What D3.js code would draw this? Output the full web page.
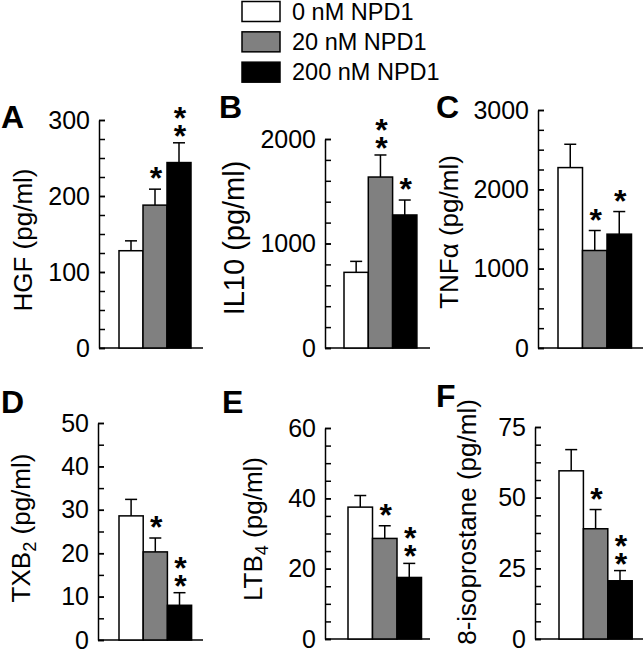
<!DOCTYPE html>
<html>
<head>
<meta charset="utf-8">
<script src="https://cdn.jsdelivr.net/npm/d3@7/dist/d3.min.js"></script>
<style>
  html, body { margin: 0; padding: 0; background: #fff; }
  svg { display: block; }
  text { font-family: "Liberation Sans", Arial, Helvetica, sans-serif; fill: #000; }
  .stack { writing-mode: vertical-rl; text-orientation: upright; }
</style>
</head>
<body>
<svg id="chart" width="643" height="653"></svg>
<script>
// ---------------- data ----------------
const groups = ["0 nM NPD1", "20 nM NPD1", "200 nM NPD1"];
const groupColors = ["#ffffff", "#808080", "#000000"];

const hgfMean = [128, 188, 244];
const hgfSem = [13, 21, 26];
const hgfStars = ["", "*", "**"];
const hgfTicks = [0, 100, 200, 300];

const il10Mean = [724, 1636, 1273];
const il10Sem = [105, 211, 143];
const il10Stars = ["", "**", "*"];
const il10Ticks = [0, 1000, 2000];

const tnfMean = [2274, 1229, 1435];
const tnfSem = [294, 252, 285];
const tnfStars = ["", "*", "*"];
const tnfTicks = [0, 1000, 2000, 3000];

const txbMean = [28.6, 20.3, 8.0];
const txbSem = [3.8, 3.2, 2.9];
const txbStars = ["", "*", "**"];
const txbTicks = [0, 10, 20, 30, 40, 50];

const ltbMean = [37.5, 28.6, 17.5];
const ltbSem = [3.3, 3.6, 4.0];
const ltbStars = ["", "*", "**"];
const ltbTicks = [0, 20, 40, 60];

const isoMean = [59.5, 39.0, 20.6];
const isoSem = [7.5, 6.8, 3.6];
const isoStars = ["", "*", "**"];
const isoTicks = [0, 25, 50, 75];

const panelLetters = ["A", "B", "C", "D", "E", "F"];
// label parts: [text, isSubscript]
const panelLabels = [
  [["HGF (pg/ml)", false]],
  [["IL10 (pg/ml)", false]],
  [["TNFα (pg/ml)", false]],
  [["TXB", false], ["2", true], [" (pg/ml)", false]],
  [["LTB", false], ["4", true], [" (pg/ml)", false]],
  [["8-isoprostane (pg/ml)", false]]
];
const panelMeans = [hgfMean, il10Mean, tnfMean, txbMean, ltbMean, isoMean];
const panelSems = [hgfSem, il10Sem, tnfSem, txbSem, ltbSem, isoSem];
const panelStars = [hgfStars, il10Stars, tnfStars, txbStars, ltbStars, isoStars];
const panelTicks = [hgfTicks, il10Ticks, tnfTicks, txbTicks, ltbTicks, isoTicks];
const panelMinorStep = [25, 200, 250, 5, 5, 6.25];

// ---------------- layout ----------------
const layout = [
  { axisX: 99,  yTop: 120, yBot: 348, xEnd: 203, barStart: 119, bw: 24,   tickFont: 25, labelFont: 26, labelX: 32,  labelY: 240, letterX: 1,   letterY: 128 },
  { axisX: 325, yTop: 139, yBot: 348, xEnd: 430, barStart: 344, bw: 24.3, tickFont: 25, labelFont: 29, labelX: 244, labelY: 238, letterX: 219, letterY: 118 },
  { axisX: 538, yTop: 110, yBot: 348, xEnd: 643, barStart: 558, bw: 24.5, tickFont: 25, labelFont: 26, labelX: 458, labelY: 232, letterX: 436, letterY: 118 },
  { axisX: 98,  yTop: 423, yBot: 640, xEnd: 203, barStart: 119, bw: 24.2, tickFont: 25, labelFont: 26, labelX: 30,  labelY: 528, letterX: 1,   letterY: 413 },
  { axisX: 325, yTop: 428, yBot: 639, xEnd: 430, barStart: 348, bw: 24.5, tickFont: 25, labelFont: 26, labelX: 262, labelY: 529, letterX: 222, letterY: 413 },
  { axisX: 535, yTop: 427, yBot: 639, xEnd: 643, barStart: 559, bw: 24.4, tickFont: 25, labelFont: 26, labelX: 476, labelY: 522, letterX: 436, letterY: 407 }
];

const svg = d3.select("#chart");
const SW = 1.5;

// ---------------- legend ----------------
const legendY = d3.scaleBand().domain(groups).range([1, 92]).paddingInner(0);
const leg = svg.append("g");
groups.forEach((g, i) => {
  const y0 = legendY(g);
  leg.append("rect")
    .attr("x", 242).attr("y", y0 + 0.5)
    .attr("width", 38).attr("height", 20)
    .attr("fill", groupColors[i]).attr("stroke", "#000").attr("stroke-width", SW);
  leg.append("text")
    .attr("x", 292).attr("y", y0 + 18.5)
    .attr("font-size", 23.5)
    .text(g);
});

// ---------------- panels ----------------
panelLetters.forEach((letter, p) => {
  const L = layout[p];
  const means = panelMeans[p], sems = panelSems[p], stars = panelStars[p];
  const ticks = panelTicks[p];
  const max = d3.max(ticks);
  const y = d3.scaleLinear().domain([0, max]).range([L.yBot, L.yTop]);
  const x = d3.scaleBand().domain(groups).range([L.barStart, L.barStart + 3 * L.bw]).padding(0);

  const g = svg.append("g");

  // minor ticks
  const minor = d3.range(0, max + 1e-9, panelMinorStep[p]);
  g.append("g")
    .attr("transform", `translate(${L.axisX},0)`)
    .call(d3.axisLeft(y).tickValues(minor).tickSize(-6).tickFormat(""))
    .call(s => s.select(".domain").remove())
    .call(s => s.selectAll("line").attr("stroke-width", SW));

  // major axis
  const ax = g.append("g")
    .attr("transform", `translate(${L.axisX},0)`)
    .call(d3.axisLeft(y).tickValues(ticks).tickSize(-6).tickSizeOuter(0).tickPadding(9).tickFormat(d3.format("d")));
  ax.select(".domain").attr("stroke-width", SW);
  ax.selectAll("line").attr("stroke-width", SW);
  ax.selectAll("text")
    .attr("font-size", L.tickFont)
    .attr("font-family", "Liberation Sans, Arial, sans-serif")
    .attr("fill", "#000");

  // x axis baseline
  g.append("line")
    .attr("x1", L.axisX).attr("x2", L.xEnd)
    .attr("y1", y(0)).attr("y2", y(0))
    .attr("stroke", "#000").attr("stroke-width", SW);

  // error bars
  groups.forEach((grp, i) => {
    const cx = x(grp) + x.bandwidth() / 2;
    const top = y(means[i] + sems[i]);
    g.append("line")
      .attr("x1", cx).attr("x2", cx)
      .attr("y1", y(means[i])).attr("y2", top)
      .attr("stroke", "#000").attr("stroke-width", SW);
    g.append("line")
      .attr("x1", cx - 6).attr("x2", cx + 6)
      .attr("y1", top).attr("y2", top)
      .attr("stroke", "#000").attr("stroke-width", SW);
    // stars: one text element, stacked vertically
    const n = stars[i].length;
    if (n > 0) {
      g.append("text")
        .attr("class", "stack")
        .attr("x", cx + 1)
        .attr("y", n > 1 ? top - 7 : top + 7)
        .attr("text-anchor", "end")
        .attr("font-size", 32)
        .attr("font-weight", "bold")
        .attr("letter-spacing", n > 1 ? -18 : 0)
        .text(stars[i]);
    }
  });

  // bars
  g.selectAll("rect.bar")
    .data(groups)
    .join("rect")
    .attr("class", "bar")
    .attr("x", d => x(d))
    .attr("width", x.bandwidth())
    .attr("y", (d, i) => y(means[i]))
    .attr("height", (d, i) => y(0) - y(means[i]))
    .attr("fill", (d, i) => groupColors[i])
    .attr("stroke", "#000").attr("stroke-width", SW);

  // y label
  const lab = g.append("text")
    .attr("transform", `translate(${L.labelX},${L.labelY}) rotate(-90)`)
    .attr("text-anchor", "middle")
    .attr("font-size", L.labelFont);
  panelLabels[p].forEach(([t, sub], j) => {
    const ts = lab.append("tspan").text(t);
    if (sub) ts.attr("font-size", L.labelFont * 0.7).attr("dy", 6);
    else if (j > 0 && panelLabels[p][j - 1][1]) ts.attr("dy", -6);
  });

  // panel letter
  g.append("text")
    .attr("x", L.letterX).attr("y", L.letterY)
    .attr("font-size", 32).attr("font-weight", "bold")
    .text(letter);
});
</script>
</body>
</html>
